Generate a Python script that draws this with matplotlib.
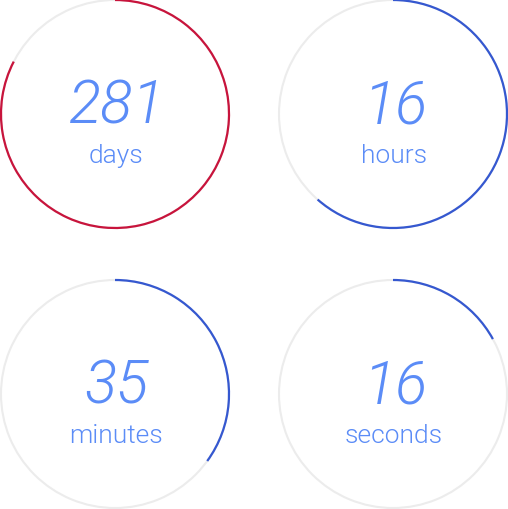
import matplotlib.pyplot as plt
from matplotlib.patches import Arc

# countdown gauges
values = ["281", "16", "35", "16"]
units = ["days", "hours", "minutes", "seconds"]
fractions = [0.826, 0.615, 0.35, 0.17]   # share of the ring that is filled
ring_colors = ["#c8143c", "#3558d0", "#3558d0", "#3558d0"]

W, H = 508, 510
centers = [(115, 115), (393, 115), (115, 395), (393, 395)]
radius = 114

fig = plt.figure(figsize=(W / 100, H / 100), dpi=100)
ax = fig.add_axes([0, 0, 1, 1])
ax.set_xlim(0, W)
ax.set_ylim(0, H)
ax.set_aspect("equal")
ax.axis("off")

text_color = "#5b8cf7"

for (cx, cy_top), val, unit, frac, col in zip(centers, values, units, fractions, ring_colors):
    cy = H - cy_top
    # grey track
    ax.add_patch(Arc((cx, cy), 2 * radius, 2 * radius, theta1=0, theta2=360,
                     color="#ececec", lw=1.5))
    # filled part, clockwise from 12 o'clock
    ax.add_patch(Arc((cx, cy), 2 * radius, 2 * radius,
                     theta1=90 - frac * 360, theta2=90, color=col, lw=1.6))
    ax.text(cx + 2, cy - 9, val, ha="center", va="baseline", color=text_color,
            fontsize=43, fontfamily="Roboto", fontweight=300, fontstyle="italic")
    ax.text(cx + 1, cy - 48, unit, ha="center", va="baseline", color=text_color,
            fontsize=19, fontfamily="Roboto", fontweight=300)

fig.savefig("out.png", dpi=100)
